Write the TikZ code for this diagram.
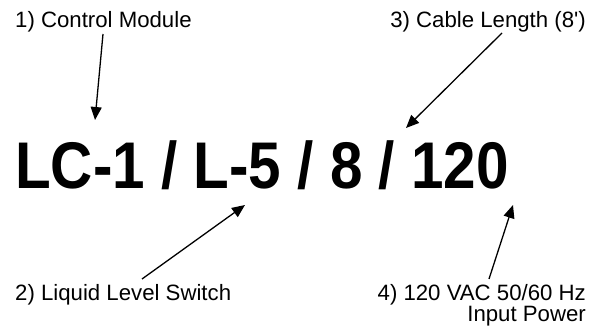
\documentclass[tikz,border=0pt]{standalone}
\usepackage{fontspec}
\setmainfont{Liberation Sans}
\usetikzlibrary{arrows.meta}
\begin{document}
\begin{tikzpicture}[x=1pt,y=-1pt,
  lbl/.style={inner sep=0pt,font=\fontsize{22.2}{21}\selectfont},
  ptr/.style={line width=1.3pt,-{Triangle[length=13pt,width=11pt]}}]
\useasboundingbox (0,0) rectangle (603,329);
\node[inner sep=0pt,anchor=base,xscale=0.885,font=\fontsize{66}{70}\selectfont\bfseries] (code) at (262,188) {LC-1 / L-5 / 8 / 120};
\node[lbl,anchor=base west] (l1) at (15,28) {1) Control Module};
\node[lbl,anchor=base east] (l3) at (586,28) {3) Cable Length (8\textquotesingle)};
\node[lbl,anchor=base west] (l2) at (15,300) {2) Liquid Level Switch};
\node[lbl,anchor=base east,align=right] (l4) at (586,321) {4) 120 VAC 50/60 Hz\\Input Power};
\coordinate (t1) at (95,120);
\coordinate (t3) at (406,128);
\coordinate (t2) at (245,205);
\coordinate (t4) at (513,205);
\coordinate (s1) at (103,34);
\coordinate (s3) at (502,33);
\coordinate (s2) at (142,279);
\coordinate (s4) at (489,279);
\draw[ptr] (s1) -- (t1);
\draw[ptr] (s3) -- (t3);
\draw[ptr] (s2) -- (t2);
\draw[ptr] (s4) -- (t4);
\end{tikzpicture}
\end{document}
